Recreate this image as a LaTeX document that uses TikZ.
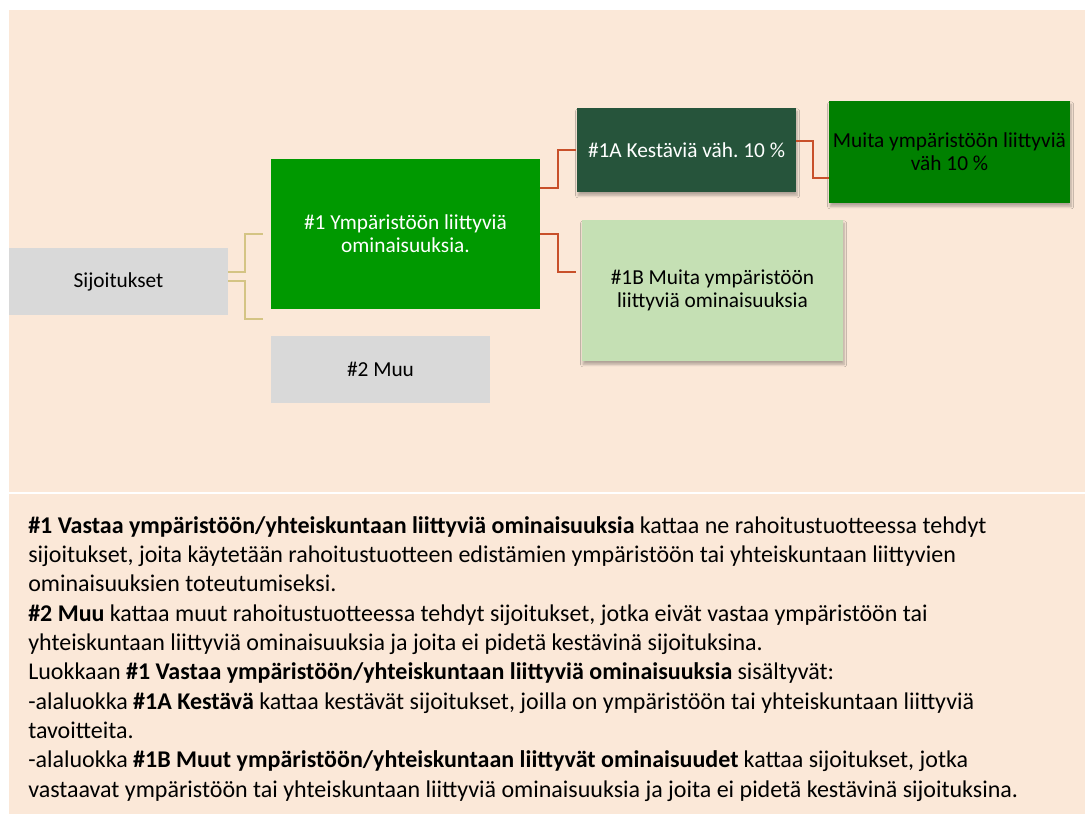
\documentclass[tikz,border=0pt]{standalone}
\usepackage{fontspec}
\setmainfont{Carlito}
\usetikzlibrary{calc}
\usetikzlibrary{shadows.blur}

\definecolor{panelbg}{RGB}{251,232,216}
\definecolor{greybox}{RGB}{217,217,217}
\definecolor{greenone}{RGB}{0,153,0}
\definecolor{greenonea}{RGB}{38,84,59}
\definecolor{greenmuita}{RGB}{0,128,0}
\definecolor{greenoneb}{RGB}{197,224,180}
\definecolor{linkb}{RGB}{212,196,132}
\definecolor{linkr}{RGB}{200,80,42}

\begin{document}
\frenchspacing
\begin{tikzpicture}[x=0.75pt, y=-0.75pt,
    box/.style={inner sep=0pt, align=center, font=\fontsize{16}{17.5}\selectfont},
    boxshadow/.style={blur shadow={shadow xshift=0.8pt, shadow yshift=-2.5pt, shadow blur steps=6, shadow opacity=30}},
    linkbeige/.style={draw=linkb, line width=1.5pt},
    linkred/.style={draw=linkr, line width=1.5pt}]

    % Panels
    \fill[white] (0,0) rectangle (1085,814);
    \fill[panelbg] (9,10) rectangle (1085,492);
    \fill[panelbg] (9,494) rectangle (1085,814);

    % Sijoitukset and its two classes
    \node[box, fill=greybox, minimum width=164.25pt, minimum height=50.25pt] (sij) at (118.5,281.5) {Sijoitukset};
    \node[box, fill=greenone, text=white, minimum width=201.75pt, minimum height=112.5pt] (one) at (405.5,234) {\#1 Ympäristöön liittyviä\\ominaisuuksia.};
    \node[box, fill=greybox, minimum width=164.25pt, minimum height=50.25pt] (two) at (380.5,369.5) {\#2 Muu};

    % Subclasses
    \node[box, boxshadow, fill=greenonea, text=white, minimum width=164.25pt, minimum height=63pt] (onea) at (686.5,150) {\#1A Kestäviä väh. 10 \%};
    \node[box, boxshadow, fill=greenmuita, minimum width=180.75pt, minimum height=76.5pt] (muita) at (949.5,152) {Muita ympäristöön liittyviä\\väh 10 \%};
    \node[box, boxshadow, fill=greenoneb, minimum width=195.75pt, minimum height=105.75pt] (oneb) at (712.5,290.5) {\#1B Muita ympäristöön\\liittyviä ominaisuuksia};

    % Connectors
    \draw[linkbeige] ($(sij.east)+(0,-9.5)$) -- ++(17,0) |- ($(one.west)+(-8,0)$);
    \draw[linkbeige] ($(sij.east)+(0,-0.5)$) -- ++(17,0) |- ($(two.north west)+(-8,-17)$);
    \draw[linkred] ($(one.east)+(0,-46)$) -- ++(18,0) |- ($(onea.west)+(-1,0)$);
    \draw[linkred] (one.east) -- ++(18,0) |- ($(oneb.west)+(-6,-18.5)$);
    \draw[linkred] ($(onea.east)+(0,-9)$) -- ++(17,0) |- ($(muita.west)+(0,26)$);

    % Explanation
    \node[anchor=north west, inner sep=0pt, align=left, font=\fontsize{18}{22}\selectfont] (legend) at (28,516) {%
        \textbf{\#1 Vastaa ympäristöön/yhteiskuntaan liittyviä ominaisuuksia} kattaa ne rahoitustuotteessa tehdyt\\
        sijoitukset, joita käytetään rahoitustuotteen edistämien ympäristöön tai yhteiskuntaan liittyvien\\
        ominaisuuksien toteutumiseksi.\\
        \textbf{\#2 Muu} kattaa muut rahoitustuotteessa tehdyt sijoitukset, jotka eivät vastaa ympäristöön tai\\
        yhteiskuntaan liittyviä ominaisuuksia ja joita ei pidetä kestävinä sijoituksina.\\
        Luokkaan \textbf{\#1 Vastaa ympäristöön/yhteiskuntaan liittyviä ominaisuuksia} sisältyvät:\\
        -alaluokka \textbf{\#1A Kestävä} kattaa kestävät sijoitukset, joilla on ympäristöön tai yhteiskuntaan liittyviä\\
        tavoitteita.\\
        -alaluokka \textbf{\#1B Muut ympäristöön/yhteiskuntaan liittyvät ominaisuudet} kattaa sijoitukset, jotka\\
        vastaavat ympäristöön tai yhteiskuntaan liittyviä ominaisuuksia ja joita ei pidetä kestävinä sijoituksina.};
\end{tikzpicture}
\end{document}
